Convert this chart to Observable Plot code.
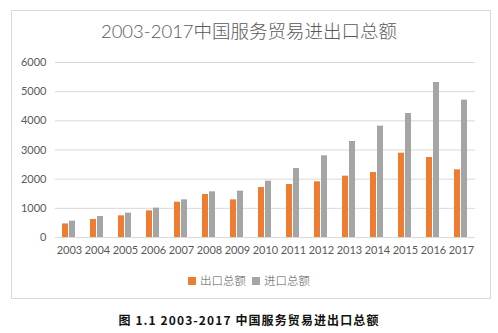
<!DOCTYPE html>
<html><head><meta charset="utf-8">
<script src="https://cdn.jsdelivr.net/npm/d3@7"></script>
<script src="https://cdn.jsdelivr.net/npm/@observablehq/plot@0.6"></script>
<style>
body{margin:0;background:#fff;}
#wrap{position:relative;width:498px;height:333px;overflow:hidden;font-family:Lato,"Noto Sans CJK SC",sans-serif;}
#frame{position:absolute;left:11px;top:10px;width:480px;height:289px;border:1px solid #d9d9d9;box-sizing:border-box;}
#title{position:absolute;left:0;width:498px;top:19px;text-align:center;font-size:18.5px;color:#595959;line-height:24px;font-weight:300;}
#chart{position:absolute;left:0;top:50px;}
#legend{position:absolute;left:0;width:498px;top:272px;text-align:center;font-size:11.5px;color:#595959;line-height:16px;font-family:"Noto Sans CJK SC",sans-serif;font-weight:300;}
#legend span.sw{display:inline-block;width:8px;height:8px;margin-right:4px;vertical-align:0px;}
#caption{position:absolute;left:0;width:498px;top:311px;text-align:center;font-size:12px;color:#111;font-weight:bold;line-height:18px;font-family:"Noto Sans CJK SC",sans-serif;letter-spacing:1.1px;}
</style></head>
<body>
<div id="wrap">
<div id="frame"></div>
<div id="title"></div>
<div id="chart"></div>
<div id="legend"></div>
<div id="caption"></div>
</div>
<script>
const years = ["2003","2004","2005","2006","2007","2008","2009","2010","2011","2012","2013","2014","2015","2016","2017"];
const exportValues = [465,617,743,914,1211,1474,1291,1714,1817,1909,2103,2229,2891,2743,2320];
const importValues = [560,720,834,1006,1291,1566,1589,1931,2366,2800,3291,3817,4251,5314,4709];
const seriesNames = ["出口总额","进口总额"];
const seriesColors = ["#ED7D31","#A5A5A5"];
const yTicks = [0,1000,2000,3000,4000,5000,6000];
const titleText = "2003-2017中国服务贸易进出口总额";
const captionText = "图 1.1 2003-2017 中国服务贸易进出口总额";

const rows = [];
years.forEach((y,i)=>{
  rows.push({year:y, series:seriesNames[0], value:exportValues[i]});
  rows.push({year:y, series:seriesNames[1], value:importValues[i]});
});

document.getElementById("title").textContent = titleText;
document.getElementById("caption").textContent = captionText;
const lg = document.getElementById("legend");
seriesNames.forEach((n,i)=>{
  const s = document.createElement("span"); s.className="sw"; s.style.background=seriesColors[i];
  lg.appendChild(s);
  const t = document.createElement("span"); t.textContent = n; t.style.marginRight = i===0?"6px":"0";
  lg.appendChild(t);
});

const chart = Plot.plot({
  width: 498,
  height: 220,
  marginLeft: 53,
  marginRight: 21,
  marginTop: 12,
  marginBottom: 33,
  style: {fontFamily: "Lato, sans-serif", fontSize: "11px", color: "#595959", background: "transparent"},
  fx: {domain: years, paddingInner: 0, paddingOuter: 0, label: null, tickSize: 0, tickPadding: 9},
  x: {domain: seriesNames, paddingInner: 0.125, paddingOuter: 0.83, axis: null},
  y: {domain: [0,6000], ticks: yTicks, tickSize: 0, tickPadding: 9, label: null, tickFormat: d => String(d)},
  color: {domain: seriesNames, range: seriesColors},
  marks: [
    Plot.ruleY(yTicks, {stroke: "#d9d9d9", strokeWidth: 1}),
    Plot.barY(rows, {fx: "year", x: "series", y: "value", fill: "series"})
  ]
});
document.getElementById("chart").appendChild(chart);
</script>
</body></html>
